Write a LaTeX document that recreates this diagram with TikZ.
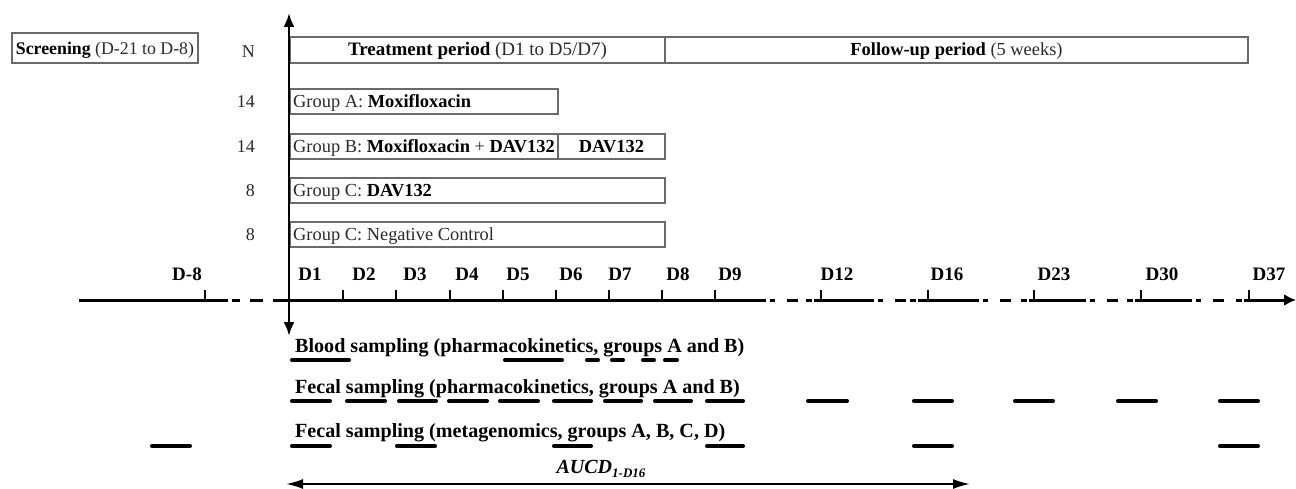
\documentclass[tikz,border=0pt]{standalone}
\usepackage{fontspec}
\setmainfont{Liberation Serif}
\usetikzlibrary{arrows.meta}
\definecolor{boxgray}{HTML}{6A6A6A}
\definecolor{txtgray}{HTML}{2A2A2A}
\begin{document}
\begin{tikzpicture}[x=1pt,y=-1pt,
  boxline/.style={draw=boxgray,line width=1.3pt},
  btxt/.style={font=\fontsize{18.4}{20}\selectfont,text=txtgray,inner sep=0pt,anchor=base},
  gtxt/.style={font=\fontsize{18.4}{20}\selectfont,text=txtgray,inner sep=0pt,anchor=base west},
  numtxt/.style={font=\fontsize{18}{20}\selectfont,text=txtgray,inner sep=0pt,anchor=base east},
  daylab/.style={font=\fontsize{19}{20}\selectfont\bfseries,inner sep=0pt,anchor=base},
  samptxt/.style={font=\fontsize{20.1}{22}\selectfont\bfseries,inner sep=0pt,anchor=base west},
  bar/.style={line width=3.6pt,line cap=round},
  axisline/.style={line width=3pt},
  tickline/.style={line width=2pt},
]
\useasboundingbox (0,0) rectangle (1296,489);

% ---- header boxes
\draw[boxline] (12,33) rectangle (198,63);
\node[btxt,font=\fontsize{17.8}{20}\selectfont] (scr) at (105,54.5) {\textbf{\color{black}Screening} (D-21 to D-8)};
\node[numtxt] (nN) at (255,58) {N};
\draw[boxline] (290,37) rectangle (665,63);
\node[btxt,font=\fontsize{19}{20}\selectfont] (treat) at (477.5,56) {\textbf{\color{black}Treatment period} (D1 to D5/D7)};
\draw[boxline] (665,37) rectangle (1248,63);
\node[btxt] (follow) at (956.5,56) {\textbf{\color{black}Follow-up period} (5 weeks)};

% ---- group rows
\draw[boxline] (290,89) rectangle (558,114);
\node[gtxt] (ga) at (293,107.5) {Group A: \textbf{\color{black}Moxifloxacin}};
\node[numtxt] (na) at (255,107.5) {14};
\draw[boxline] (290,134) rectangle (558,159);
\draw[boxline] (558,134) rectangle (665,159);
\node[gtxt] (gb) at (293,152.5) {Group B: \textbf{\color{black}Moxifloxacin} + \textbf{\color{black}DAV132}};
\node[btxt,text=black] (gbd) at (611.5,152.5) {\textbf{DAV132}};
\node[numtxt] (nb) at (255,152.5) {14};
\draw[boxline] (290,178) rectangle (665,203);
\node[gtxt] (gc) at (293,196.5) {Group C: \textbf{\color{black}DAV132}};
\node[numtxt] (nc) at (255,196.5) {8};
\draw[boxline] (290,222) rectangle (665,247);
\node[gtxt] (gd) at (293,240.5) {Group C: Negative Control};
\node[numtxt] (nd) at (255,240.5) {8};

% ---- vertical axis
\coordinate (vtop) at (289,13);
\coordinate (vbot) at (289,336);
\draw[line width=2.6pt,{Latex[length=14pt,width=11pt]}-{Latex[length=14pt,width=11pt]}] (vbot) -- (vtop);

% ---- horizontal axis
\coordinate (hstart) at (79,300);
\coordinate (hend) at (1296,300);
\draw[axisline] (hstart) -- (228,300);
\foreach \a/\b in {232/240,250/263,273/287} \draw[axisline] (\a,300) -- (\b,300);
\draw[axisline] (287,300) -- (766,300);
\foreach \s/\e in {766/814,874/918,979/1029,1086/1135,1192/1244}{
  \draw[axisline] (\s+4,300) -- (\s+9,300);
  \draw[axisline] (\s+21,300) -- (\s+32,300);
  \draw[axisline] (\e-8,300) -- (\e-2,300);
}
\foreach \a/\b in {814/874,918/979,1029/1086,1135/1192} \draw[axisline] (\a,300) -- (\b,300);
\draw[axisline,-{Latex[length=12pt,width=12pt]}] (1244,300) -- (hend);
\foreach \x in {205,289,343,396,450,503,556,609,662,715,821,928,1034,1141,1249}
  \draw[tickline] (\x,301) -- (\x,290);

% ---- day labels
\foreach \x/\t [count=\i] in {187/D-8,310/D1,364/D2,415/D3,467/D4,518/D5,571/D6,620/D7,678/D8,730/D9,837/D12,947/D16,1054/D23,1162/D30,1269/D37}
  \node[daylab] (day\i) at (\x,280) {\t};

% ---- sampling rows
\node[samptxt] (blood) at (295,352) {Blood sampling (pharmacokinetics, groups A and B)};
\node[samptxt] (fecpk) at (295,393) {Fecal sampling (pharmacokinetics, groups A and B)};
\node[samptxt] (fecmg) at (295,437) {Fecal sampling (metagenomics, groups A, B, C, D)};

\foreach \a/\b in {290/351,503/564,585/600,610/625,641/656,663/679}
  \draw[bar] (\a+1.8,360) -- (\b-1.8,360);
\foreach \a/\b in {290/332,345/387,397/438,447/489,498/540,552/593,603/643,653/693,705/745,806/849,912/954,1013/1055,1116/1158,1218/1260}
  \draw[bar] (\a+1.8,401) -- (\b-1.8,401);
\foreach \a/\b in {150/192,290/332,395/437,552/593,705/745,912/954,1218/1260}
  \draw[bar] (\a+1.8,446) -- (\b-1.8,446);

% ---- AUCD
\coordinate (aucdL) at (286,484);
\coordinate (aucdR) at (970,484);
\draw[line width=2pt,{Latex[length=17pt,width=10pt]}-{Latex[length=17pt,width=10pt]}] (aucdL) -- (aucdR);
\node[font=\fontsize{20}{22}\selectfont\bfseries\itshape,inner sep=0pt,anchor=base] (aucd) at (601,473) {AUCD\raisebox{-4.5pt}{\fontsize{13}{14}\selectfont 1-D16}};
\end{tikzpicture}
\end{document}
